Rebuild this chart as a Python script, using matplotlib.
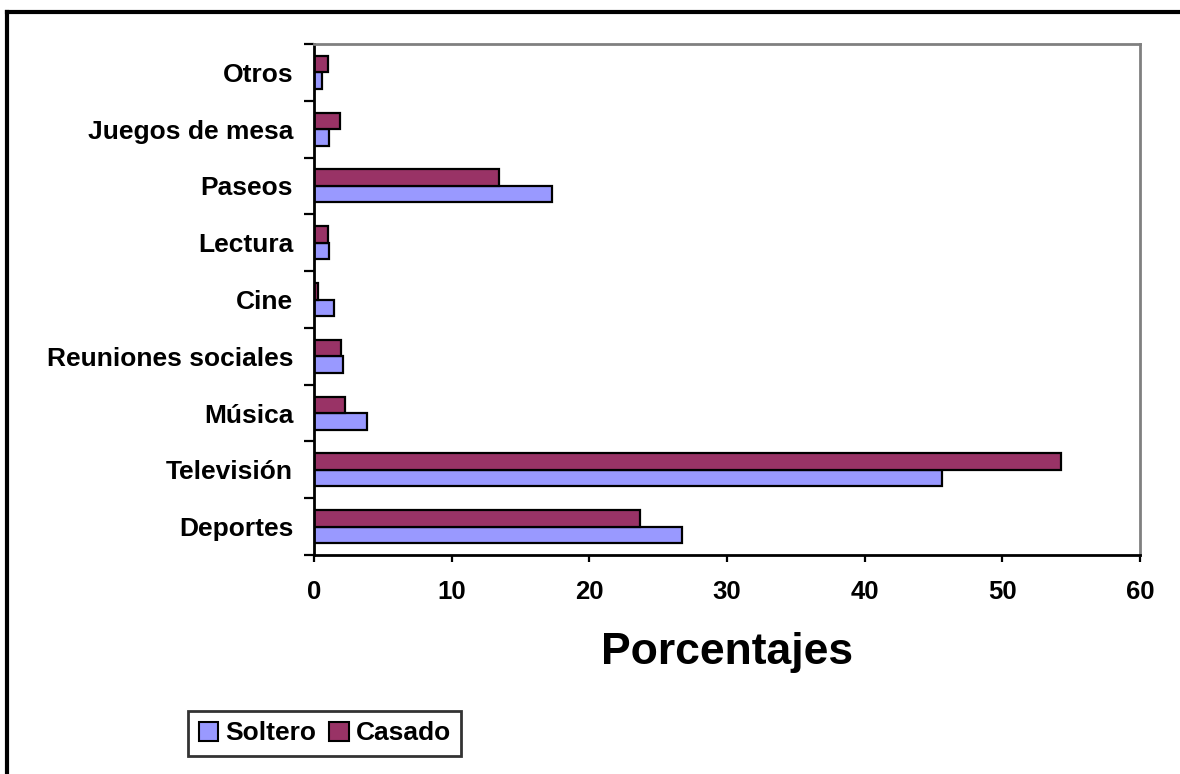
import matplotlib
matplotlib.use("Agg")
import matplotlib.pyplot as plt
import numpy as np
from matplotlib.lines import Line2D
from matplotlib.patches import Patch

# Pastimes by marital status (percent)
categorias = ["Deportes", "Televisión", "Música", "Reuniones sociales", "Cine",
              "Lectura", "Paseos", "Juegos de mesa", "Otros"]
soltero = [26.7, 45.65, 3.83, 2.13, 1.47, 1.07, 17.28, 1.07, 0.58]
casado = [23.7, 54.25, 2.25, 1.94, 0.29, 0.99, 13.46, 1.89, 1.04]
xticks = [0, 10, 20, 30, 40, 50, 60]

color_soltero = "#9999FF"
color_casado = "#993366"

plt.rcParams["font.family"] = ["Liberation Sans", "DejaVu Sans"]
plt.rcParams["font.weight"] = "bold"

W, H = 1180, 774
fig = plt.figure(figsize=(W / 100, H / 100), dpi=100)
ax = fig.add_axes([314 / W, 1 - 555 / H, (1140 - 314) / W, (555 - 44) / H])

y = np.arange(len(categorias))
h = 0.29
ax.barh(y - h / 2, soltero, height=h, color=color_soltero, edgecolor="black",
        linewidth=1.6, label="Soltero")
ax.barh(y + h / 2, casado, height=h, color=color_casado, edgecolor="black",
        linewidth=1.6, label="Casado")

ax.set_xlim(0, 60)
ax.set_ylim(-0.5, len(categorias) - 0.5)
ax.set_xticks(xticks)
ax.set_xticklabels([str(v) for v in xticks], fontsize=18.5, fontweight="bold")
ax.tick_params(axis="x", direction="out", length=5, width=1.6, pad=13)

# category boundaries carry the ticks, centres carry the labels
ax.set_yticks(np.arange(len(categorias) + 1) - 0.5)
ax.set_yticklabels([])
ax.set_yticks(y, minor=True)
ax.set_yticklabels(categorias, minor=True, fontsize=19, fontweight="bold")
ax.tick_params(axis="y", which="major", direction="out", length=7, width=1.6)
ax.tick_params(axis="y", which="minor", length=0, pad=15)

for side in ("left", "bottom"):
    ax.spines[side].set_color("black")
    ax.spines[side].set_linewidth(2)
for side in ("top", "right"):
    ax.spines[side].set_color("#808080")
    ax.spines[side].set_linewidth(2)

ax.set_xlabel("Porcentajes", fontsize=32, fontweight="bold", labelpad=20)

handles = [Patch(facecolor=color_soltero, edgecolor="black", linewidth=1.5),
           Patch(facecolor=color_casado, edgecolor="black", linewidth=1.5)]
leg = fig.legend(handles, ["Soltero", "Casado"], loc="lower left",
                 bbox_to_anchor=(188 / W, 1 - 756 / H), ncol=2,
                 prop={"size": 19, "weight": "bold"}, frameon=True, fancybox=False,
                 handlelength=0.75, handleheight=0.75, handletextpad=0.25,
                 columnspacing=0.5, borderpad=0.4, borderaxespad=0)
leg.get_frame().set_edgecolor("black")
leg.get_frame().set_linewidth(2)

# outer frame lines
fig.add_artist(Line2D([7 / W, 1], [1 - 12 / H, 1 - 12 / H], color="black", linewidth=3,
                      transform=fig.transFigure))
fig.add_artist(Line2D([7 / W, 7 / W], [0, 1 - 12 / H], color="black", linewidth=3,
                      transform=fig.transFigure))

fig.savefig("out.png", dpi=100)
